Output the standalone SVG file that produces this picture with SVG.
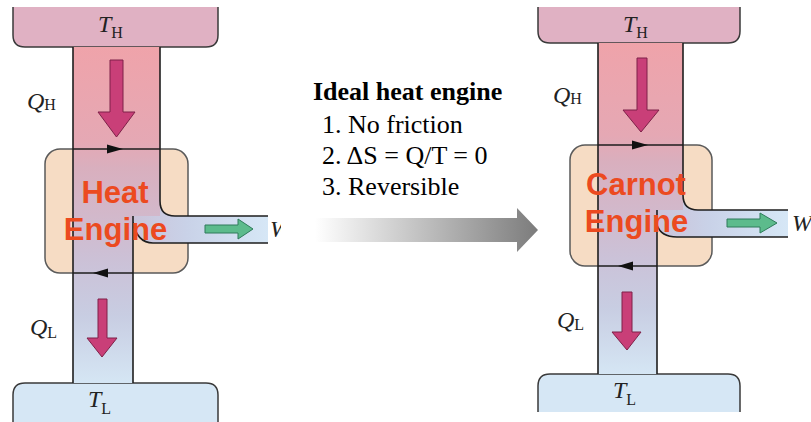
<svg xmlns="http://www.w3.org/2000/svg" width="811" height="422" viewBox="0 0 811 422">
<style>
.res{stroke:none}
.rline{fill:none;stroke:#3a3a3a;stroke-width:1.5}
.edge{fill:none;stroke:#1e1e1e;stroke-width:1.6}
.eng-box{fill:#f6dcc4;stroke:#5a5a5a;stroke-width:1.5}
.lab{font-family:"Liberation Serif","Times New Roman",serif;font-style:italic;font-size:24px;fill:#222}
.sub{font-style:normal;font-size:16px}
.eng{font-family:"Liberation Sans",Arial,sans-serif;font-weight:bold;font-size:31px;fill:#ec4a1f;text-anchor:middle}
.pink{fill:#c93f78;stroke:#7e2148;stroke-width:1}
.green{fill:#5cbb8c;stroke:#2e7b5a;stroke-width:1}
.head{fill:#111}
.tx{font-family:"Liberation Serif","Times New Roman",serif;font-size:26px;fill:#000}
</style>
<defs>
<linearGradient id="colL" gradientUnits="userSpaceOnUse" x1="0" y1="47" x2="0" y2="383">
<stop offset="0" stop-color="#efa3aa"/><stop offset="0.28" stop-color="#e5a8b4"/><stop offset="0.36" stop-color="#d9afbe"/><stop offset="0.65" stop-color="#cbc2d8"/><stop offset="0.8" stop-color="#c8cde2"/><stop offset="1" stop-color="#d5e6f4"/>
</linearGradient>
<linearGradient id="colR" gradientUnits="userSpaceOnUse" x1="0" y1="43" x2="0" y2="374">
<stop offset="0" stop-color="#efa3aa"/><stop offset="0.28" stop-color="#e5a8b4"/><stop offset="0.36" stop-color="#d9afbe"/><stop offset="0.65" stop-color="#cbc2d8"/><stop offset="0.8" stop-color="#c8cde2"/><stop offset="1" stop-color="#d5e6f4"/>
</linearGradient>
<linearGradient id="chL" gradientUnits="userSpaceOnUse" x1="133" y1="0" x2="268" y2="0">
<stop offset="0" stop-color="#cbc3d9"/><stop offset="0.4" stop-color="#c9d2e8"/><stop offset="1" stop-color="#d6e7f6"/>
</linearGradient>
<linearGradient id="chR" gradientUnits="userSpaceOnUse" x1="657" y1="0" x2="788" y2="0">
<stop offset="0" stop-color="#cbc3d9"/><stop offset="0.4" stop-color="#c9d2e8"/><stop offset="1" stop-color="#d6e7f6"/>
</linearGradient>
<linearGradient id="grey" gradientUnits="userSpaceOnUse" x1="315" y1="0" x2="538" y2="0">
<stop offset="0" stop-color="#ffffff"/><stop offset="1" stop-color="#7c7c7c"/>
</linearGradient>
<clipPath id="clipL"><rect x="0" y="0" width="281" height="422"/></clipPath>
</defs>

<g id="left-hot">
<path class="res" fill="#e0b1c3" d="M13,7 V35 Q13,47 25,47 H206 Q218,47 218,35 V7 Z"/>
<path class="rline" d="M13,7 V35 Q13,47 25,47 H206 Q218,47 218,35 V7"/>
<text class="lab" x="98" y="32">T<tspan class="sub" dy="6">H</tspan></text>
</g>
<g id="left-cold">
<path class="res" fill="#d6e7f5" d="M13,422 V395 Q13,383 25,383 H206 Q218,383 218,395 V422 Z"/>
<path class="rline" d="M13,422 V395 Q13,383 25,383 H206 Q218,383 218,395 V422"/>
<text class="lab" x="88" y="407">T<tspan class="sub" dy="7">L</tspan></text>
</g>
<g id="left-engine">
<rect class="eng-box" x="45" y="149" width="143" height="124" rx="15"/>
</g>

<g id="right-hot">
<path class="res" fill="#e0b1c3" d="M538,7 V31 Q538,43 550,43 H728 Q740,43 740,31 V7 Z"/>
<path class="rline" d="M538,7 V31 Q538,43 550,43 H728 Q740,43 740,31 V7"/>
<text class="lab" x="623" y="32">T<tspan class="sub" dy="6">H</tspan></text>
</g>
<g id="right-cold">
<path class="res" fill="#d6e7f5" d="M538,412 V386 Q538,374 550,374 H728 Q740,374 740,386 V412 Z"/>
<path class="rline" d="M538,412 V386 Q538,374 550,374 H728 Q740,374 740,386 V412"/>
<text class="lab" x="613" y="398">T<tspan class="sub" dy="7">L</tspan></text>
</g>
<g id="right-engine">
<rect class="eng-box" x="570" y="145" width="142" height="121" rx="15"/>
</g>

<g id="connectors">
<path fill="url(#colL)" d="M73,47 H160 V216 H133 V383 H73 Z"/>
<path fill="url(#chL)" d="M160,201 Q160,216 175,216 H268 V243 H153 Q137,243 133,222 V216 H160 Z"/>
<path class="edge" d="M73,149 H160 M73,273 H133"/>
<polygon class="head" points="107,144.5 123,149 107,153.5"/>
<polygon class="head" points="108,268.5 93,273 108,277.5"/>
<path class="edge" d="M73,47 V383 M160,47 V201 Q160,216 175,216 H268 M268,243 H153 Q137,243 133,222 M133,216 V383"/>
<polygon class="pink" points="110,60 123,60 123,112 135,112 116.5,137 98,112 110,112"/>
<polygon class="pink" points="98,299 107,299 107,338 117,338 102,357 87,338 98,338"/>
<polygon class="green" points="205,225 238,225 238,219 253,229 238,239 238,233 205,233"/>
<text class="lab" x="27" y="109">Q<tspan class="sub" dy="1">H</tspan></text>
<text class="lab" x="30" y="335">Q<tspan class="sub" dy="3">L</tspan></text>
<text class="lab" x="270" y="237" clip-path="url(#clipL)">W</text>
<path fill="url(#colR)" d="M598,43 H683 V210 H657 V374 H598 Z"/>
<path fill="url(#chR)" d="M683,195 Q683,210 698,210 H788 V237 H677 Q661,237 657,225 V210 H683 Z"/>
<path class="edge" d="M598,145 H683 M598,266 H657"/>
<polygon class="head" points="632,140.5 648,145 632,149.5"/>
<polygon class="head" points="633,261.5 618,266 633,270.5"/>
<path class="edge" d="M598,43 V374 M683,43 V195 Q683,210 698,210 H788 M788,237 H677 Q661,237 657,225 M657,210 V374"/>
<polygon class="pink" points="637,58 647,58 647,110 659,110 641,132 623,110 637,110"/>
<polygon class="pink" points="622,292 632,292 632,332 641,332 627,350 612,332 622,332"/>
<polygon class="green" points="727,219 760,219 760,213 777,223 760,233 760,227 727,227"/>
<text class="lab" x="553" y="103">Q<tspan class="sub" dy="1">H</tspan></text>
<text class="lab" x="557" y="328">Q<tspan class="sub" dy="2">L</tspan></text>
<text class="lab" x="792" y="231">W</text>
</g>

<g id="left-engine-label">
<text class="eng" x="115" y="203">Heat</text>
<text class="eng" x="115.5" y="240">Engine</text>
</g>
<g id="right-engine-label">
<text class="eng" x="636" y="195">Carnot</text>
<text class="eng" x="636.5" y="232">Engine</text>
</g>

<g id="ideal-text">
<text class="tx" x="313" y="100" font-weight="bold" font-size="26.5">Ideal heat engine</text>
<text class="tx" x="322" y="133">1. No friction</text>
<text class="tx" x="322" y="164">2. ΔS = Q/T = 0</text>
<text class="tx" x="322" y="195">3. Reversible</text>
</g>

<g id="transition-arrow">
<polygon fill="url(#grey)" points="315,218 517,218 517,208 538,230 517,252 517,242 315,242"/>
</g>
</svg>
